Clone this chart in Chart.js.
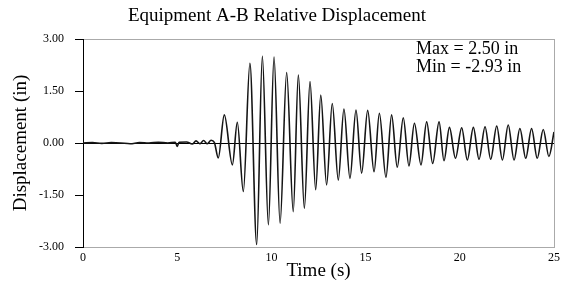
<!DOCTYPE html>
<html>
<head>
<meta charset="utf-8">
<script src="https://cdn.jsdelivr.net/npm/chart.js@4"></script>
<style>
  html, body { margin: 0; padding: 0; background: #fff; }
  #wrap { width: 565px; height: 289px; }
</style>
</head>
<body>
<div id="wrap"><canvas id="dispChart" width="565" height="289"></canvas></div>
<script>
// time history (seconds, inches) - extremes of each cycle
const timeS = [
  0, 0.5, 1.0, 1.5, 2.0, 2.5, 3.0, 3.5, 4.0, 4.5, 4.9, 5.0, 5.1, 5.5, 5.8, 6.0, 6.2, 6.4, 6.6, 6.8, 6.97,
  7.18, 7.50, 7.93, 8.19, 8.51, 8.86, 9.22, 9.52, 9.84, 10.14, 10.46, 10.81, 11.16, 11.43, 11.75,
  12.05, 12.35, 12.62, 12.93, 13.23, 13.55, 13.85, 14.17, 14.49, 14.79, 15.11, 15.45, 15.73, 16.08,
  16.38, 16.68, 17.00, 17.30, 17.59, 17.94, 18.24, 18.56, 18.90, 19.16, 19.45, 19.77, 20.10, 20.40,
  20.72, 21.02, 21.34, 21.64, 21.96, 22.26, 22.57, 22.88, 23.19, 23.50, 23.81, 24.11, 24.43, 24.73, 25.00
];
const dispIn = [
  0, 0.01, -0.01, 0.01, 0, -0.02, 0.01, 0, 0.02, 0, 0.02, -0.10, 0.02, 0.03, -0.03, 0.06, -0.02, 0.07, -0.02, 0.08, 0.02,
  -0.43, 0.81, -0.63, 0.60, -1.40, 2.30, -2.93, 2.50, -2.36, 2.48, -2.31, 2.03, -1.98, 1.96, -1.88,
  1.77, -1.35, 1.38, -1.21, 1.14, -1.07, 0.98, -1.02, 0.95, -0.87, 0.94, -0.83, 0.86, -0.99,
  0.81, -0.70, 0.73, -0.66, 0.57, -0.63, 0.61, -0.59, 0.61, -0.51, 0.45, -0.44, 0.44, -0.49,
  0.45, -0.47, 0.47, -0.47, 0.49, -0.49, 0.52, -0.49, 0.42, -0.44, 0.42, -0.44, 0.39, -0.39, 0.32
];
const yTicks = [-3, -1.5, 0, 1.5, 3];
const xTicks = [0, 5, 10, 15, 20, 25];
const notes = ["Max = 2.50 in", "Min = -2.93 in"];

const serif = "'Liberation Serif', 'Times New Roman', serif";

// Max / Min note in the upper right corner
const notePlugin = {
  id: "notes",
  afterDraw(chart) {
    const ctx = chart.ctx;
    ctx.save();
    ctx.fillStyle = "#000";
    ctx.font = "18px " + serif;
    ctx.textAlign = "left";
    ctx.textBaseline = "alphabetic";
    notes.forEach((t, i) => ctx.fillText(t, 416, 54 + i * 18));
    ctx.restore();
  }
};

new Chart(document.getElementById("dispChart"), {
  type: "line",
  data: {
    datasets: [{
      data: timeS.map((t, i) => ({ x: t, y: dispIn[i] })),
      borderColor: "#151515",
      borderWidth: 1.6,
      pointRadius: 0,
      cubicInterpolationMode: "monotone",
      fill: false
    }]
  },
  options: {
    responsive: false,
    animation: false,
    layout: { padding: { left: 0, right: 11, top: 0, bottom: 0 } },
    plugins: {
      legend: { display: false },
      tooltip: { enabled: false },
      title: {
        display: true,
        text: "Equipment A-B Relative Displacement",
        color: "#000",
        font: { family: serif, size: 19, weight: "normal" },
        padding: { top: 4.6, bottom: 11.6 }
      }
    },
    scales: {
      x: {
        type: "linear",
        min: 0,
        max: 25,
        afterBuildTicks: s => { s.ticks = xTicks.map(v => ({ value: v })); },
        afterFit: s => { s.height = 42; },
        ticks: { color: "#000", font: { family: serif, size: 12 }, padding: 4, maxRotation: 0 },
        grid: {
          drawTicks: false,
          color: c => (c.tick && c.tick.value === 25 ? "#aaa" : "rgba(0,0,0,0)")
        },
        border: { color: "#aaa", width: 1 },
        title: {
          display: true,
          text: "Time (s)",
          color: "#000",
          font: { family: serif, size: 19 },
          padding: { top: 0, bottom: 6.5 }
        }
      },
      y: {
        min: -3,
        max: 3,
        afterBuildTicks: s => { s.ticks = yTicks.map(v => ({ value: v })); },
        afterFit: s => { s.width = 83; },
        ticks: {
          color: "#000",
          font: { family: serif, size: 12 },
          padding: 11,
          callback: v => v.toFixed(2)
        },
        grid: {
          tickLength: 8,
          tickColor: "#000",
          color: c => {
            if (!c.tick) return "rgba(0,0,0,0)";
            if (c.tick.value === 0) return "#000";
            if (c.tick.value === 3) return "#aaa";
            return "rgba(0,0,0,0)";
          }
        },
        border: { color: "#000", width: 1 },
        title: {
          display: true,
          text: "Displacement (in)",
          color: "#000",
          font: { family: serif, size: 19 },
          padding: { top: 9.6, bottom: 0 }
        }
      }
    }
  },
  plugins: [notePlugin]
});
</script>
</body>
</html>
